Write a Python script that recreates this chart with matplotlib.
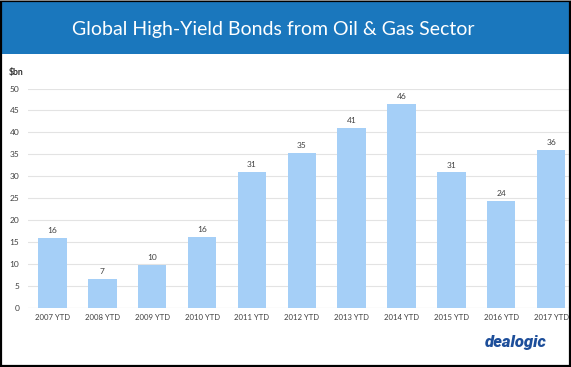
import matplotlib
matplotlib.use("Agg")
import matplotlib.pyplot as plt
from matplotlib.patches import Rectangle
import numpy as np

categories = ["2007 YTD", "2008 YTD", "2009 YTD", "2010 YTD", "2011 YTD", "2012 YTD",
              "2013 YTD", "2014 YTD", "2015 YTD", "2016 YTD", "2017 YTD"]
values = [15.9, 6.6, 9.9, 16.2, 31.0, 35.4, 41.0, 46.4, 30.9, 24.4, 36.0]
yticks = [0, 5, 10, 15, 20, 25, 30, 35, 40, 45, 50]

W, H = 571, 367
fig = plt.figure(figsize=(W / 100, H / 100), dpi=100)
fig.patch.set_facecolor("white")
FONT = ["Lato", "DejaVu Sans"]

# axes: x from 27.6 px to 576 px (cropped on right), y0 at 308.3, y50 at 88.5
x0, x1 = 27.6, 576.0
ypix0, ypix50 = 308.3, 88.5
ax = fig.add_axes([x0 / W, 1 - ypix0 / H, (x1 - x0) / W, (ypix0 - ypix50) / H])
ax.set_facecolor("none")
x = np.arange(len(categories))
ax.bar(x, values, width=0.57, color="#a5cff7", edgecolor="none", zorder=3)
for xi, v in zip(x, values):
    ax.text(xi, v + 0.9, f"{round(v):d}", ha="center", va="bottom",
            fontsize=6.0, color="#404040", family=FONT)
ax.set_xlim(-0.5, len(categories) - 0.5)
ax.set_ylim(0, 50)
ax.set_yticks(yticks)
ax.set_yticklabels([str(t) for t in yticks], fontsize=6.0, color="#404040", family=FONT)
ax.set_xticks(x)
ax.set_xticklabels(categories, fontsize=5.6, color="#404040", family=FONT)
ax.tick_params(axis="both", length=0)
ax.tick_params(axis="x", pad=4)
ax.tick_params(axis="y", pad=6)
ax.grid(axis="y", color="#e3e3e3", linewidth=0.8, zorder=0)
for s in ax.spines.values():
    s.set_visible(False)
ax.axhline(0, color="#d9d9d9", linewidth=0.8, zorder=2)

# title banner
fig.patches.append(Rectangle((2 / W, 1 - 54 / H), (W - 4) / W, 52 / H,
                             transform=fig.transFigure, facecolor="#1a77bd",
                             edgecolor="none", zorder=5))
fig.text(273 / W, 1 - 29 / H, "Global High-Yield Bonds from Oil & Gas Sector",
         ha="center", va="center", color="white", fontsize=14.0,
         family=FONT, zorder=6)

fig.text(9 / W, 1 - 73 / H, "$bn", ha="left", va="center", fontsize=6.3,
         fontweight="bold", color="#303030", family=FONT)

fig.text(516 / W, 1 - 342 / H, "dealogic", ha="center", va="center",
         fontsize=12, fontweight="heavy", fontstyle="italic", color="#1d4e9a",
         family=["Roboto", "DejaVu Sans"], zorder=6)

# outer border (drawn on top)
fig.patches.append(Rectangle((569.5 / W, 0), 2 / W, 1, transform=fig.transFigure,
                             facecolor="white", edgecolor="none", zorder=9))
fig.patches.append(Rectangle((1 / W, 1.5 / H), 568.5 / W, 364.5 / H,
                             transform=fig.transFigure, facecolor="none",
                             edgecolor="black", linewidth=1.6, zorder=10))
fig.patches.append(Rectangle((0, 0), 2.2 / W, 1, transform=fig.transFigure,
                             facecolor="black", edgecolor="none", zorder=10))
fig.patches.append(Rectangle((0, 1 - 1.2 / H), 1, 1.2 / H, transform=fig.transFigure,
                             facecolor="#888888", edgecolor="none", zorder=11))

fig.savefig("out.png", dpi=100)
